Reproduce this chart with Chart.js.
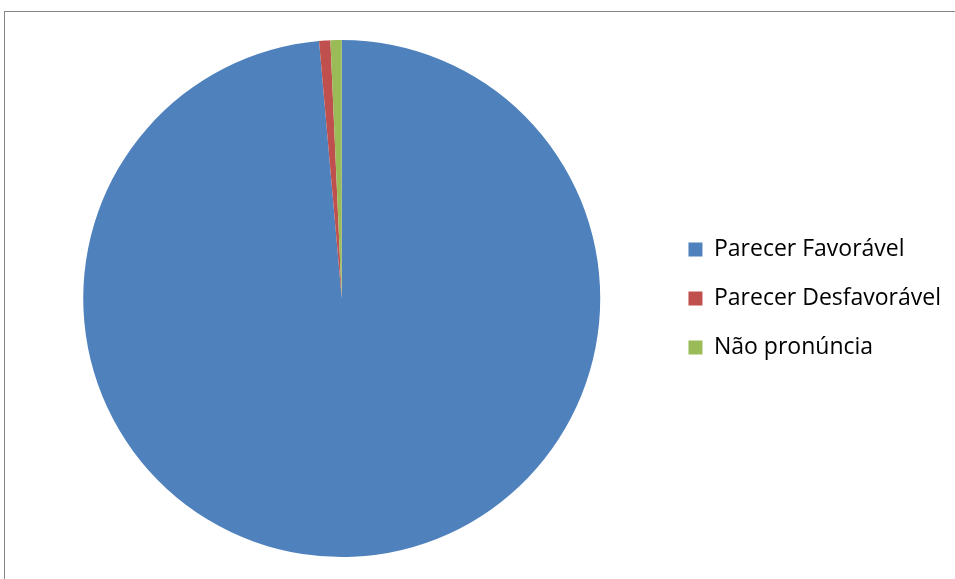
<!DOCTYPE html>
<html>
<head>
<meta charset="utf-8">
<script src="https://cdn.jsdelivr.net/npm/chart.js@4"></script>
<style>
    html, body { margin: 0; padding: 0; background: #fff; overflow: hidden; }
    #frame {
        position: absolute; left: 4px; top: 11px;
        width: 1000px; height: 1000px;
        border: 1px solid #868686;
    }
    #wrap { position: absolute; left: 0; top: 0; width: 955px; height: 579px; }
</style>
</head>
<body>
<div id="frame"></div>
<div id="wrap"><canvas id="pieChart"></canvas></div>
<script>
const labels = ['Parecer Favorável', 'Parecer Desfavorável', 'Não pronúncia'];
const values = [141, 1, 1];
const colors = ['#4F81BD', '#C0504D', '#9BBB59'];

const ctx = document.getElementById('pieChart');
const myChart = new Chart(ctx, {
    type: 'pie',
    data: {
        labels: labels,
        datasets: [
            {
                data: values,
                backgroundColor: colors,
                borderWidth: 0,
            },
        ],
    },
    options: {
        responsive: true,
        maintainAspectRatio: false,
        animation: false,
        layout: {
            padding: { left: 21, right: 4, top: 40, bottom: 22 },
        },
        plugins: {
            tooltip: { enabled: false },
            legend: {
                position: 'right',
                labels: {
                    boxWidth: 14,
                    boxHeight: 14,
                    padding: 26,
                    color: '#000',
                    font: { family: 'Open Sans', size: 23 },
                },
            },
        },
    },
});
</script>
</body>
</html>
